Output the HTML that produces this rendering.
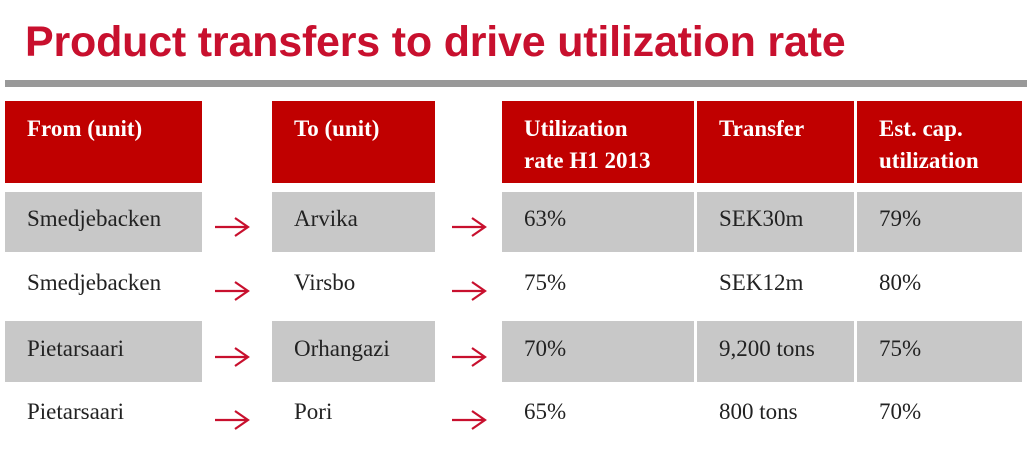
<!DOCTYPE html>
<html><head><meta charset="utf-8"><style>
body{margin:0;width:1027px;height:454px;background:#fff;position:relative;overflow:hidden}
.t{position:absolute;left:25px;top:18px;font:bold 43px "Liberation Sans",sans-serif;color:#c8102e;white-space:nowrap;letter-spacing:-0.2px}
.rule{position:absolute;left:5px;top:80px;width:1022px;height:7px;background:#999}
.c{position:absolute;box-sizing:border-box;font:23px "Liberation Serif",serif;color:#222;padding-left:22px;white-space:nowrap}
.h{background:#c00000;color:#fff;font-weight:bold;line-height:32px;padding-top:12px}
.g{background:#c8c8c8}
.a{position:absolute}
</style></head><body>
<div class="t">Product transfers to drive utilization rate</div>
<div class="rule"></div>
<div id="tbl"></div>
<script>
const fromUnits=["Smedjebacken","Smedjebacken","Pietarsaari","Pietarsaari"];
const toUnits=["Arvika","Virsbo","Orhangazi","Pori"];
const utilRates=["63%","75%","70%","65%"];
const transfers=["SEK30m","SEK12m","9,200 tons","800 tons"];
const estCap=["79%","80%","75%","70%"];
const headers=["From (unit)","To (unit)","Utilization<br>rate H1 2013","Transfer","Est. cap.<br>utilization"];
const colX=[5,272,502,697,857],colW=[197,163,192,157,165];
const rowY=[192,256,321,385],rowH=[60,60,61,60];
const tbl=document.getElementById('tbl');
function cell(x,y,w,h,html,cls,name){const d=document.createElement('div');d.className='c '+cls;d.style.left=x+'px';d.style.top=y+'px';d.style.width=w+'px';d.style.height=h+'px';if(cls.indexOf('h')<0){d.style.lineHeight=(h-6)+'px';}d.innerHTML=html;


tbl.appendChild(d);}
headers.forEach((h,i)=>cell(colX[i],101,colW[i],82,h,'h','header-'+i));
const cols=[fromUnits,toUnits,utilRates,transfers,estCap];
const NS='http://www.w3.org/2000/svg';
for(let r=0;r<4;r++){
 cols.forEach((arr,i)=>cell(colX[i],rowY[r],colW[i],rowH[r],arr[r],r%2===0?'g':'','cell-r'+r+'-c'+i));
 [213,450].forEach(ax=>{const s=document.createElementNS(NS,'svg');s.setAttribute('class','a');s.setAttribute('width','40');s.setAttribute('height','24');
 s.style.left=ax+'px';s.style.top=(rowY[r]+rowH[r]/2-7)+'px';
 s.innerHTML='<path d="M2 12 H34 M22 3 L35 12 L22 21" fill="none" stroke="#c8102e" stroke-width="2.2"/>';
 
 
 tbl.appendChild(s);});
}
</script>
</body></html>
